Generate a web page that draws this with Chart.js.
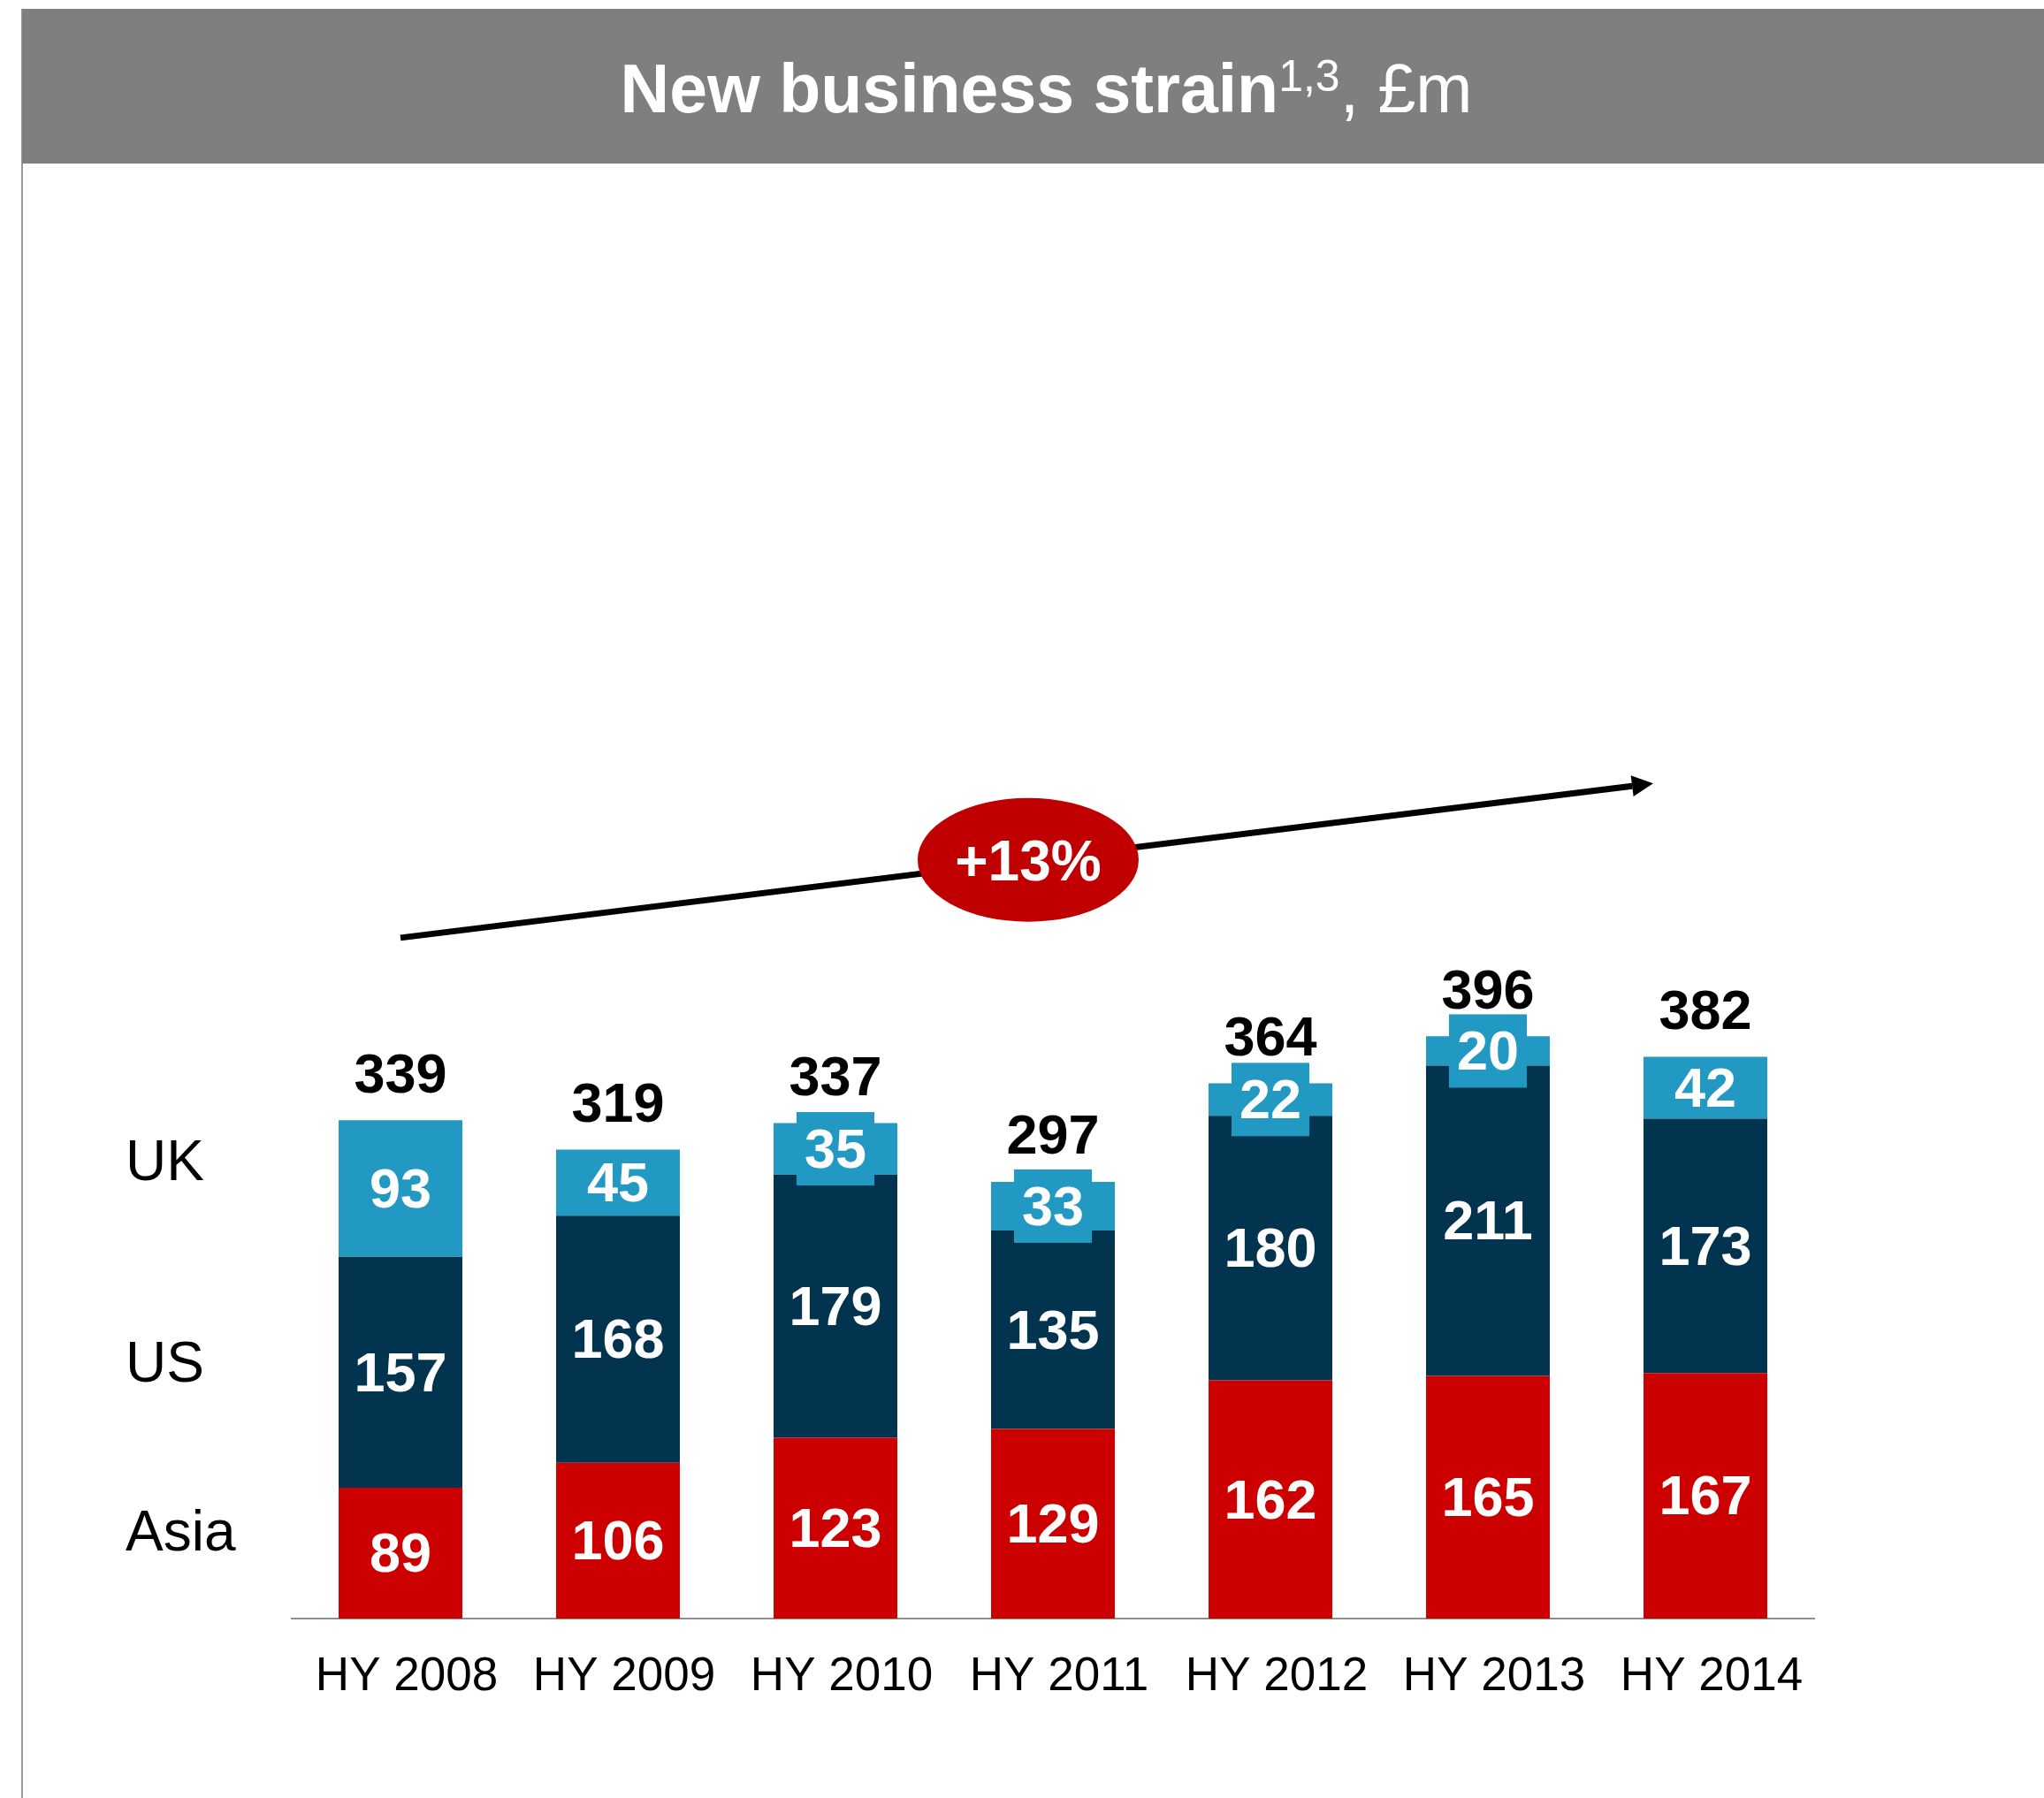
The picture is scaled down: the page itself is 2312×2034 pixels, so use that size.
<!DOCTYPE html>
<html>
<head>
<meta charset="utf-8">
<title>New business strain</title>
<script src="https://cdn.jsdelivr.net/npm/chart.js@4.4.1/dist/chart.umd.min.js"></script>
<style>
  html, body { margin: 0; padding: 0; background: #fff; }
  body { width: 2312px; height: 2034px; position: relative; overflow: hidden;
         font-family: "Liberation Sans", Arial, sans-serif; }
  #leftRule { position: absolute; left: 24px; top: 10px; width: 2px; height: 2024px; background: #9a9a9a; }
  #titleBar { position: absolute; left: 25px; top: 10px; width: 2287px; height: 175px; background: #7f7f7f; }
  #titleText { position: absolute; left: 0; top: 52px; width: 100%; padding-left: 30px; box-sizing: border-box;
               text-align: center; color: #fff; font-size: 77px; line-height: 77px; white-space: nowrap; }
  #titleText b { font-weight: bold; }
  #titleText sup { font-size: 50px; vertical-align: baseline; position: relative; top: -24px; }
  #chart { position: absolute; left: 0; top: 0; }
</style>
</head>
<body>
<div id="leftRule"></div>
<div id="titleBar"><div id="titleText"><b>New business strain</b><sup>1,3</sup>, £m</div></div>
<canvas id="chart" width="2312" height="2034"></canvas>
<script>
// Data
const categories = ["HY 2008", "HY 2009", "HY 2010", "HY 2011", "HY 2012", "HY 2013", "HY 2014"];
const asiaValues = [89, 106, 123, 129, 162, 165, 167];
const usValues = [157, 168, 179, 135, 180, 211, 173];
const ukValues = [93, 45, 35, 33, 22, 20, 42];
const totalValues = [339, 319, 337, 297, 364, 396, 382];
const growthLabel = "+13%";

const FONT = '"Liberation Sans", Arial, sans-serif';

// Draws the numbers inside the segments, the totals, the row names and the growth arrow
const labelPlugin = {
    id: "segmentLabels",
    afterDatasetsDraw(chart) {
        const ctx = chart.ctx;
        const xScale = chart.scales.x;
        const yScale = chart.scales.y;
        ctx.save();

        // Growth arrow with the red ellipse
        const x1 = xScale.getPixelForValue(0), y1 = yScale.getPixelForValue(463);
        const x2 = xScale.getPixelForValue(5.76), y2 = yScale.getPixelForValue(568);
        const ang = Math.atan2(y2 - y1, x2 - x1);
        const headLen = 24, headHalf = 12;
        ctx.strokeStyle = "#000";
        ctx.lineWidth = 7;
        ctx.beginPath();
        ctx.moveTo(x1, y1);
        ctx.lineTo(x2 - headLen * Math.cos(ang), y2 - headLen * Math.sin(ang));
        ctx.stroke();
        ctx.fillStyle = "#000";
        ctx.beginPath();
        ctx.moveTo(x2, y2);
        ctx.lineTo(x2 - headLen * Math.cos(ang) + headHalf * Math.sin(ang), y2 - headLen * Math.sin(ang) - headHalf * Math.cos(ang));
        ctx.lineTo(x2 - headLen * Math.cos(ang) - headHalf * Math.sin(ang), y2 - headLen * Math.sin(ang) + headHalf * Math.cos(ang));
        ctx.closePath();
        ctx.fill();

        const ex = xScale.getPixelForValue(2.886), ey = yScale.getPixelForValue(516);
        ctx.fillStyle = "#c00000";
        ctx.beginPath();
        ctx.ellipse(ex, ey, 125, 70, 0, 0, Math.PI * 2);
        ctx.fill();
        ctx.fillStyle = "#fff";
        ctx.font = "bold 64px " + FONT;
        ctx.textAlign = "center";
        ctx.textBaseline = "middle";
        ctx.fillText(growthLabel, ex, ey + 6);

        // Segment values
        ctx.font = "bold 63px " + FONT;
        chart.data.datasets.forEach((ds, di) => {
            const meta = chart.getDatasetMeta(di);
            meta.data.forEach((bar, i) => {
                const v = ds.data[i];
                const cy = (bar.y + bar.base) / 2;
                if (ds.label === "UK" && v < 40) {
                    const w = ctx.measureText(String(v)).width + 18;
                    ctx.fillStyle = ds.backgroundColor;
                    ctx.fillRect(bar.x - w / 2, cy - 41.5, w, 83);
                }
                ctx.fillStyle = "#fff";
                ctx.fillText(String(v), bar.x, cy + 4);
            });
        });

        // Totals above the stacks
        const topMeta = chart.getDatasetMeta(chart.data.datasets.length - 1);
        ctx.fillStyle = "#000";
        topMeta.data.forEach((bar, i) => {
            ctx.fillText(String(totalValues[i]), bar.x, bar.y - 49);
        });

        // Row names on the left
        ctx.font = "64px " + FONT;
        ctx.textAlign = "left";
        const rows = [["UK", 309], ["US", 172], ["Asia", 57]];
        rows.forEach(([name, val]) => {
            ctx.fillText(name, 142, yScale.getPixelForValue(val));
        });

        ctx.restore();
    }
};

new Chart(document.getElementById("chart"), {
    type: "bar",
    data: {
        labels: categories,
        datasets: [
            { label: "Asia", data: asiaValues, backgroundColor: "#cc0000" },
            { label: "US", data: usValues, backgroundColor: "#02344f" },
            { label: "UK", data: ukValues, backgroundColor: "#2199c2" }
        ]
    },
    options: {
        responsive: false,
        animation: false,
        devicePixelRatio: 1,
        barPercentage: 0.569,
        categoryPercentage: 1,
        layout: { padding: { left: 330, right: 260, top: 833, bottom: 0 } },
        plugins: {
            legend: { display: false },
            tooltip: { enabled: false },
            title: { display: false }
        },
        scales: {
            x: {
                stacked: true,
                grid: { display: false, drawTicks: false },
                border: { display: true, color: "#8f8f8f", width: 2 },
                ticks: { color: "#000", font: { family: FONT, size: 53 }, padding: 35, labelOffset: 7, maxRotation: 0 },
                afterFit(scale) { scale.height = 203; }
            },
            y: {
                stacked: true,
                display: false,
                min: 0,
                max: 600
            }
        }
    },
    plugins: [labelPlugin]
});
</script>
</body>
</html>
